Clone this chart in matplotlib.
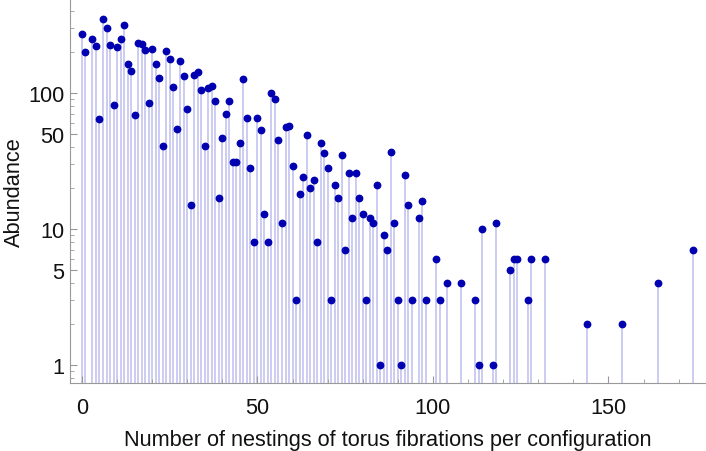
#!/usr/bin/env python
## Stem plot of nesting abundance (log scale), Mathematica-like styling

import numpy as np
from matplotlib import pyplot as plt
from matplotlib.ticker import FixedLocator, NullFormatter

plt.rcParams['font.family'] = ['Liberation Sans', 'DejaVu Sans']

nestings = [0, 1, 3, 4, 5, 6, 7, 8, 9, 10, 11, 12, 13, 14, 15, 16, 17, 18, 19,
            20, 21, 22, 23, 24, 25, 26, 27, 28, 29, 30, 31, 32, 33, 34, 35, 36,
            37, 38, 39, 40, 41, 42, 43, 44, 45, 46, 47, 48, 49, 50, 51, 52, 53,
            54, 55, 56, 57, 58, 59, 60, 61, 62, 63, 64, 65, 66, 67, 68, 69, 70,
            71, 72, 73, 74, 75, 76, 77, 78, 79, 80, 81, 82, 83, 84, 85, 86, 87,
            88, 89, 90, 91, 92, 93, 94, 96, 97, 98, 101, 102, 104, 108, 112,
            113, 114, 117, 118, 122, 123, 124, 127, 128, 132, 144, 154, 164, 174]
abundance = [270, 200, 250, 220, 64, 350, 300, 224, 82, 219, 248, 318, 162, 145,
             69, 234, 228, 207, 85, 210, 164, 128, 41, 204, 177, 111, 54, 172,
             134, 76, 15, 136, 143, 105, 41, 109, 113, 88, 17, 47, 70, 87, 31,
             31, 43, 126, 65, 28, 8, 66, 53, 13, 8, 100, 91, 45, 11, 56, 57, 29,
             3, 18, 24, 49, 20, 23, 8, 43, 36, 28, 3, 21, 17, 35, 7, 26, 12, 26,
             17, 13, 3, 12, 11, 21, 1, 9, 7, 37, 11, 3, 1, 25, 15, 3, 12, 16, 3,
             6, 3, 4, 4, 3, 1, 10, 1, 11, 5, 6, 6, 3, 6, 6, 2, 2, 4, 7]

y_major = [1, 5, 10, 50, 100]
y_minor = [0.8, 0.9, 2, 3, 4, 6, 7, 8, 9, 20, 30, 40, 60, 70, 80, 90, 200, 300, 400]

fig = plt.figure(figsize=(7.06, 4.52), dpi=100)
ax = fig.add_axes([70/706, 68/452, 636/706, 384/452])
ax.set_yscale('log')
ax.set_xlim(-3.4, 177.8)
ax.set_ylim(0.74, 490)

bottom = ax.get_ylim()[0]
ax.vlines(nestings, bottom, abundance, colors='#c8c8f0', lw=1.3, zorder=1)
ax.plot(nestings, abundance, 'o', color='#0000b0', ms=4.6, mec='#0000b0', zorder=2)

ax.yaxis.set_major_locator(FixedLocator(y_major))
ax.yaxis.set_minor_locator(FixedLocator(y_minor))
ax.yaxis.set_minor_formatter(NullFormatter())
ax.set_yticklabels([str(v) for v in y_major])
ax.xaxis.set_major_locator(FixedLocator([0, 50, 100, 150]))
ax.xaxis.set_minor_locator(FixedLocator([10, 20, 30, 40, 60, 70, 80, 90, 110, 120, 130, 140, 160, 170]))

for s in ['top', 'right']:
    ax.spines[s].set_visible(False)
for s in ['left', 'bottom']:
    ax.spines[s].set_color('#999999')
ax.tick_params(which='both', direction='in', color='#999999', labelsize=15.7, labelcolor='#111111')
ax.tick_params(which='major', length=5)
ax.tick_params(axis='x', which='major', pad=10)
ax.tick_params(axis='y', which='major', pad=4)
ax.tick_params(which='minor', length=3)

ax.set_xlabel('Number of nestings of torus fibrations per configuration', fontsize=15.7, color='#111111', labelpad=8)
ax.set_ylabel('Abundance', fontsize=15.7, color='#111111', labelpad=2)

fig.savefig('out.png', dpi=100)
